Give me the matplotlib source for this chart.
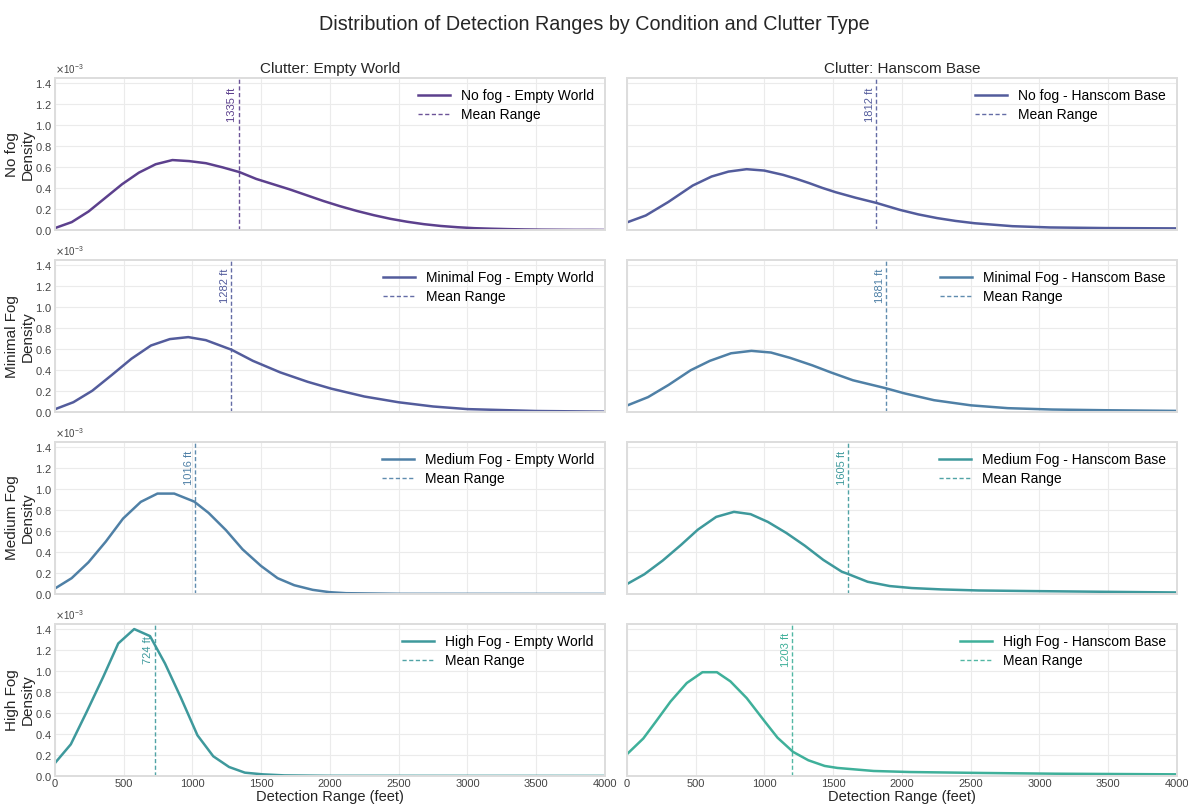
import matplotlib.pyplot as plt
import numpy as np

plt.rcParams['font.family'] = ['Liberation Sans', 'DejaVu Sans']

conditions = ["No fog", "Minimal Fog", "Medium Fog", "High Fog"]
clutters = ["Empty World", "Hanscom Base"]

# density curves (x in feet, y in 1e-3)
x_no_empty = [0, 122, 244, 366, 488, 610, 732, 854, 976, 1098, 1220, 1342, 1464, 1586, 1708, 1830,
              1952, 2074, 2196, 2318, 2440, 2562, 2684, 2806, 2928, 3050, 3172, 3294, 3416, 3538,
              3660, 3782, 3904, 4026]
y_no_empty = [0.022, 0.079, 0.18, 0.31, 0.44, 0.55, 0.63, 0.67, 0.66, 0.64, 0.60, 0.555, 0.49, 0.44,
              0.39, 0.335, 0.28, 0.23, 0.185, 0.145, 0.11, 0.082, 0.059, 0.042, 0.03, 0.021, 0.016,
              0.012, 0.009, 0.007, 0.006, 0.005, 0.005, 0.004]
x_no_hanscom = [0, 137, 300, 478, 615, 738, 870, 998, 1135, 1230, 1326, 1420, 1517, 1660, 1813, 1983,
                2120, 2256, 2390, 2529, 2803, 3076, 3486, 4000]
y_no_hanscom = [0.076, 0.142, 0.27, 0.427, 0.513, 0.56, 0.583, 0.57, 0.529, 0.492, 0.45, 0.405, 0.364,
                0.312, 0.262, 0.196, 0.152, 0.117, 0.09, 0.068, 0.04, 0.028, 0.022, 0.019]

x_min_empty = [0, 134, 271, 413, 556, 698, 835, 969, 1097, 1285, 1439, 1638, 1838, 2009, 2250, 2500,
               2750, 3000, 3500, 4000]
y_min_empty = [0.029, 0.096, 0.205, 0.355, 0.51, 0.636, 0.697, 0.716, 0.687, 0.595, 0.49, 0.38, 0.29,
               0.225, 0.15, 0.095, 0.055, 0.03, 0.012, 0.006]
x_min_hanscom = [0, 153, 302, 463, 603, 757, 905, 1047, 1187, 1348, 1482, 1643, 1879, 2018, 2233, 2501,
                 2770, 3092, 3495, 4000]
y_min_hanscom = [0.064, 0.144, 0.26, 0.40, 0.49, 0.562, 0.585, 0.569, 0.518, 0.447, 0.38, 0.305,
                 0.23, 0.18, 0.115, 0.066, 0.039, 0.026, 0.019, 0.013]

x_med_empty = [0, 121, 243, 369, 495, 624, 745, 867, 1012, 1117, 1243, 1364, 1498, 1619, 1740, 1874,
               1995, 2117, 2505, 4000]
y_med_empty = [0.054, 0.152, 0.303, 0.50, 0.72, 0.879, 0.958, 0.958, 0.882, 0.774, 0.61, 0.427, 0.269,
               0.152, 0.085, 0.041, 0.019, 0.009, 0.003, 0.002]
x_med_hanscom = [0, 126, 260, 394, 515, 649, 778, 899, 1025, 1160, 1294, 1428, 1562, 1608, 1750, 1911,
                 2072, 2287, 2555, 2958, 3495, 4000]
y_med_hanscom = [0.096, 0.189, 0.32, 0.47, 0.614, 0.736, 0.784, 0.762, 0.688, 0.582, 0.461, 0.326,
                 0.214, 0.192, 0.118, 0.077, 0.058, 0.045, 0.035, 0.029, 0.022, 0.016]

x_high_empty = [0, 115, 230, 351, 460, 576, 691, 800, 915, 1036, 1151, 1266, 1381, 1511, 1669, 2000,
                4000]
y_high_empty = [0.124, 0.302, 0.61, 0.945, 1.263, 1.40, 1.333, 1.072, 0.748, 0.388, 0.188, 0.086, 0.032,
                0.016, 0.006, 0.002, 0.001]
x_high_hanscom = [0, 119, 211, 317, 435, 549, 654, 752, 871, 1003, 1095, 1208, 1319, 1438, 1530, 1794,
                  2058, 2586, 3113, 4000]
y_high_hanscom = [0.208, 0.358, 0.52, 0.71, 0.886, 0.989, 0.989, 0.902, 0.742, 0.518, 0.365, 0.23, 0.15,
                  0.096, 0.077, 0.048, 0.038, 0.029, 0.022, 0.016]

xs = [[x_no_empty, x_no_hanscom], [x_min_empty, x_min_hanscom],
      [x_med_empty, x_med_hanscom], [x_high_empty, x_high_hanscom]]
ys = [[y_no_empty, y_no_hanscom], [y_min_empty, y_min_hanscom],
      [y_med_empty, y_med_hanscom], [y_high_empty, y_high_hanscom]]
means = [[1335, 1812], [1282, 1881], [1016, 1605], [724, 1203]]

palette = ["#5c408d", "#535c9c", "#4f80a6", "#3e999c", "#3fb09a"]

fig, axes = plt.subplots(4, 2, figsize=(11.88, 8.06), dpi=100, sharex=True, sharey=True)
fig.subplots_adjust(left=0.0463, right=0.9907, top=0.903, bottom=0.0372, wspace=0.04, hspace=0.195)

for i, cond in enumerate(conditions):
    for j, clut in enumerate(clutters):
        ax = axes[i, j]
        c = palette[i + j]
        ax.plot(xs[i][j], np.array(ys[i][j]) * 1e-3, color=c, lw=1.8,
                label=f"{cond} - {clut}")
        m = means[i][j]
        ax.axvline(m, color=c, ls="--", dashes=(3, 1.8), lw=1.0, alpha=0.9, label="Mean Range")
        ax.text(m - 8, 1.2e-3, f"{m} ft", rotation=90, ha="right", va="center",
                color=c, fontsize=8)
        ax.legend(loc="upper right", frameon=False, fontsize=10, handlelength=2.3,
                  borderaxespad=0.4, labelspacing=0.35)
        ax.set_xlim(0, 4000)
        ax.set_ylim(0, 1.45e-3)
        ax.set_xticks(np.arange(0, 4001, 500))
        ax.set_yticks(np.arange(0, 1.41e-3, 0.2e-3))
        ax.ticklabel_format(axis="y", style="sci", scilimits=(0, 0), useMathText=True)
        ax.yaxis.get_offset_text().set_fontsize(7)
        ax.yaxis.get_offset_text().set_color("#444444")
        ax.grid(True, color="#ebebeb", lw=0.8)
        ax.set_axisbelow(True)
        ax.tick_params(length=0, labelsize=8, labelcolor="#444444", pad=2)
        for s in ax.spines.values():
            s.set_color("#dddddd")
            s.set_linewidth(1.4)
        if i == 0:
            ax.set_title(f"Clutter: {clut}", fontsize=11, color="#262626", pad=4)
        if j == 0:
            ax.set_ylabel(f"{cond}\nDensity", fontsize=11, color="#262626")
            ax.yaxis.set_label_coords(-0.036, 0.5)
        if i == 3:
            ax.set_xlabel("Detection Range (feet)", fontsize=10.5, color="#262626", labelpad=1)

fig.suptitle("Distribution of Detection Ranges by Condition and Clutter Type",
             fontsize=14.2, color="#262626", y=0.982)

plt.savefig("out.png", dpi=100)
